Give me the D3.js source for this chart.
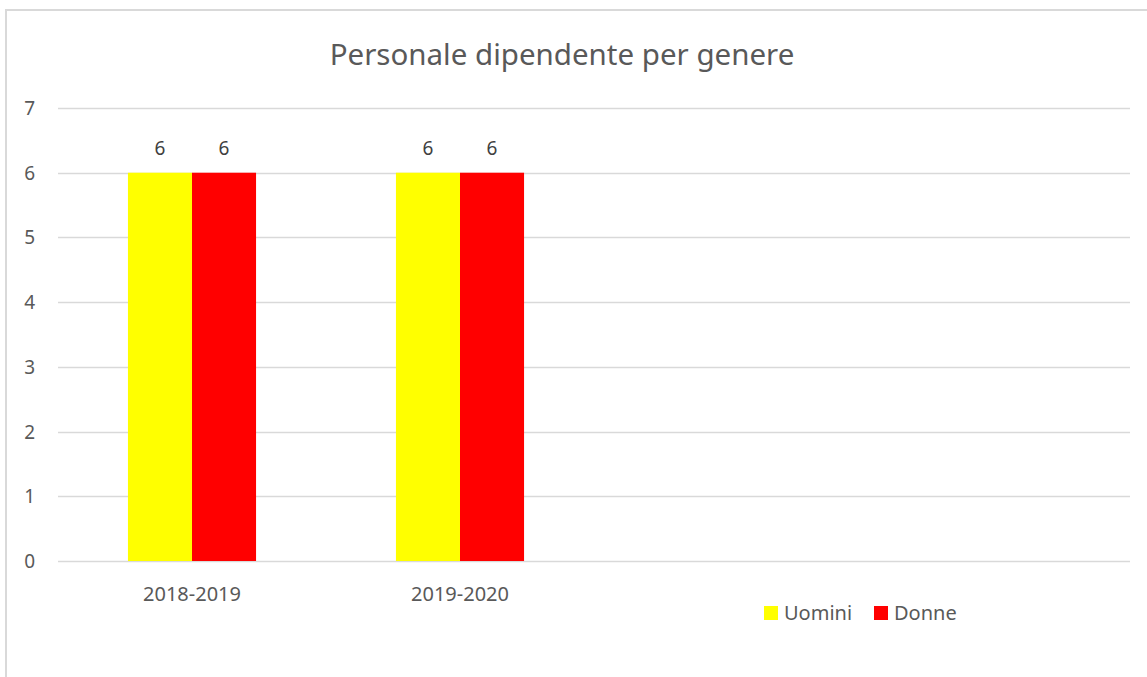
<!DOCTYPE html>
<html>
<head>
<meta charset="utf-8">
<script src="https://cdn.jsdelivr.net/npm/d3@7/dist/d3.min.js"></script>
<style>
  html, body { margin: 0; padding: 0; background: #fff; }
  svg { display: block; font-family: "Noto Sans", "Open Sans", sans-serif; }
</style>
</head>
<body>
<svg id="chart"></svg>
<script>
const categories = ['2018-2019', '2019-2020', '', ''];
const seriesNames = ['Uomini', 'Donne'];
const uomini = [6, 6];
const donne = [6, 6];
const yTicks = [0, 1, 2, 3, 4, 5, 6, 7];

const width = 1147, height = 677;
const margin = {top: 108, left: 58, right: 17, bottom: 116};
const color = { Uomini: '#ffff00', Donne: '#ff0000', grid: '#d9d9d9', text: '#595959', label: '#404040' };

const svg = d3.select('#chart').attr('width', width).attr('height', height);

// outer frame (cropped on the right and bottom)
svg.append('rect')
    .attr('x', 6).attr('y', 10)
    .attr('width', width + 20).attr('height', height + 20)
    .attr('fill', 'none')
    .attr('stroke', color.grid)
    .attr('stroke-width', 2);

const y = d3.scaleLinear().domain([0, 7]).range([height - margin.bottom, margin.top]);
const x = d3.scaleBand()
    .domain(d3.range(categories.length))
    .range([margin.left, width - margin.right])
    .paddingInner(0.522)
    .paddingOuter(0.261);
const xs = d3.scaleBand().domain(seriesNames).range([0, x.bandwidth()]);

// gridlines
svg.append('g')
  .selectAll('line')
  .data(yTicks)
  .enter()
  .append('line')
    .attr('x1', margin.left)
    .attr('x2', width - margin.right)
    .attr('y1', d => Math.round(y(d)) + 0.5)
    .attr('y2', d => Math.round(y(d)) + 0.5)
    .attr('stroke', color.grid)
    .attr('stroke-width', 1.3);

// y labels
svg.append('g')
  .selectAll('text')
  .data(yTicks)
  .enter()
  .append('text')
    .text(d => d)
    .attr('x', 35)
    .attr('y', d => y(d) + 7)
    .attr('text-anchor', 'end')
    .attr('fill', color.text)
    .style('font-size', '19px');

// bars
const rows = categories.map((c, i) => ({
  i,
  values: [
    {key: 'Uomini', v: uomini[i]},
    {key: 'Donne', v: donne[i]}
  ].filter(d => d.v != null)
}));

const groups = svg.append('g')
  .selectAll('g')
  .data(rows)
  .enter()
  .append('g')
    .attr('transform', d => `translate(${x(d.i)},0)`);

groups.selectAll('rect')
  .data(d => d.values)
  .enter()
  .append('rect')
    .attr('x', d => xs(d.key))
    .attr('width', xs.bandwidth())
    .attr('y', d => y(d.v))
    .attr('height', d => y(0) - y(d.v))
    .attr('fill', d => color[d.key]);

groups.selectAll('text')
  .data(d => d.values)
  .enter()
  .append('text')
    .text(d => d.v)
    .attr('x', d => xs(d.key) + xs.bandwidth() / 2)
    .attr('y', d => y(d.v) - 18)
    .attr('text-anchor', 'middle')
    .attr('fill', color.label)
    .style('font-size', '19px');

// x labels
svg.append('g')
  .selectAll('text')
  .data(categories)
  .enter()
  .append('text')
    .text(d => d)
    .attr('x', (d, i) => x(i) + x.bandwidth() / 2)
    .attr('y', 601)
    .attr('text-anchor', 'middle')
    .attr('fill', color.text)
    .style('font-size', '20px');

// title
svg.append('text')
    .text('Personale dipendente per genere')
    .attr('x', 562)
    .attr('y', 65)
    .attr('text-anchor', 'middle')
    .attr('fill', color.text)
    .style('font-size', '29.5px');

// legend
const legendX = [764, 874];
const legend = svg.append('g')
  .selectAll('g')
  .data(seriesNames)
  .enter()
  .append('g')
    .attr('transform', (d, i) => `translate(${legendX[i]},606)`);

legend.append('rect')
    .attr('width', 14).attr('height', 14)
    .attr('fill', d => color[d]);

legend.append('text')
    .text(d => d)
    .attr('x', 20)
    .attr('y', 14)
    .attr('fill', color.text)
    .style('font-size', '20px');
</script>
</body>
</html>
